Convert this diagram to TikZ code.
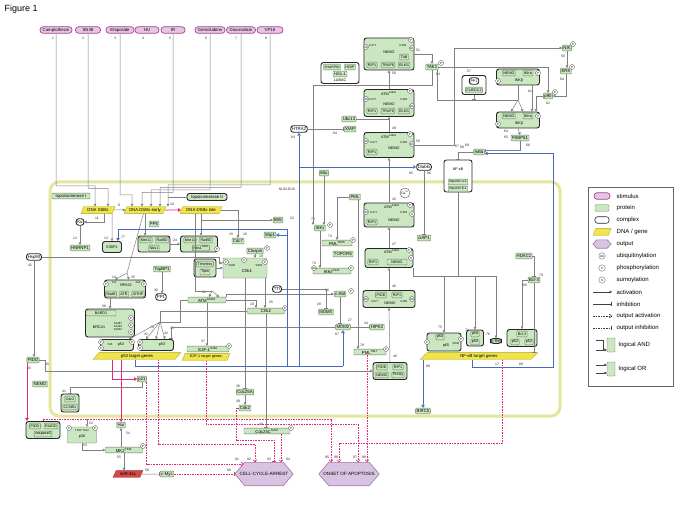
\documentclass[tikz,border=0pt]{standalone}
\usepackage{fontspec}
\setmainfont{Liberation Sans}
\usetikzlibrary{arrows.meta,shapes.geometric,calc,backgrounds}
\definecolor{protf}{RGB}{203,231,193}
\definecolor{protd}{RGB}{100,120,90}
\definecolor{stimf}{RGB}{232,196,226}
\definecolor{stimd}{RGB}{160,70,150}
\definecolor{dnaf}{RGB}{240,228,70}
\definecolor{dnad}{RGB}{170,160,40}
\definecolor{outf}{RGB}{216,196,226}
\definecolor{outd}{RGB}{150,120,165}
\definecolor{pnkc}{RGB}{226,40,120}
\definecolor{bluc}{RGB}{70,105,190}
\definecolor{nucc}{RGB}{228,230,160}
\definecolor{linc}{RGB}{128,128,128}
\definecolor{mirf}{RGB}{215,70,70}
\newcommand{\hexnode}[2]{\path[draw=outd, fill=outf, line width=0.6pt] (#1.west) -- ($(#1.north west)+(#2,0)$) -- ($(#1.north east)+(-#2,0)$) -- (#1.east) -- ($(#1.south east)+(-#2,0)$) -- ($(#1.south west)+(#2,0)$) -- cycle;}
\begin{document}
\begin{tikzpicture}[x=1pt,y=-1pt,
 every node/.style={font=\fontsize{4.3}{4.7}\selectfont, inner sep=0.5pt},
 ism/.style={font=\fontsize{3.7}{4}\selectfont},
 prot/.style={draw=protd, fill=protf, rounded corners=0.8pt, line width=0.35pt, minimum height=5.8pt, inner xsep=1pt},
 cplx/.style={draw=black!85, fill=protf, rounded corners=2.5pt, line width=0.9pt},
 cplxw/.style={cplx, fill=white, inner xsep=1.2pt, minimum height=6.5pt},
 stim/.style={draw=stimd, fill=stimf, rounded corners=3pt, line width=0.7pt, minimum height=6.5pt},
 dna/.style={trapezium, trapezium left angle=60, trapezium right angle=120, trapezium stretches=true, draw=dnad, fill=dnaf, line width=0.3pt, minimum height=6.8pt, inner sep=0.3pt},
 outn/.style={minimum height=23pt, font=\fontsize{4.6}{5}\selectfont},
 lbl/.style={font=\fontsize{3.4}{3.7}\selectfont, inner sep=0pt, text=black!85},
 sm/.style={font=\fontsize{2.8}{3}\selectfont, inner sep=0pt},
 lgt/.style={font=\fontsize{6}{7}\selectfont, anchor=west},
 modst/.style={circle, draw=black!70, fill=white, line width=0.3pt, minimum size=5pt, inner sep=0pt, font=\fontsize{3}{3}\selectfont},
 con/.style={draw=linc, line width=0.5pt},
 act/.style={con, -{Triangle[length=2.5pt,width=2.7pt]}},
 inh/.style={con, -{Bar[width=3.2pt,line width=0.8pt]}},
 blul/.style={draw=bluc, line width=0.9pt},
 blu/.style={blul, -{Triangle[open,length=3pt,width=3.4pt]}},
 pnk/.style={draw=pnkc, line width=0.9pt, -{Triangle[open,length=3pt,width=3.4pt]}},
 pda/.style={draw=pnkc, line width=0.6pt, dash pattern=on 1.6pt off 1pt, -{Straight Barb[length=2.2pt,width=4pt]}},
 pdi/.style={draw=pnkc, line width=0.6pt, dash pattern=on 1.6pt off 1pt, -{Bar[width=4pt,line width=0.9pt]}}
]
\useasboundingbox (0,0) rectangle (685,513);
\node[anchor=west, font=\fontsize{9}{10}\selectfont] (title) at (4,9) {Figure 1};

% nucleus
\node[draw=nucc, line width=3pt, rounded corners=9pt, minimum width=510pt, minimum height=234pt] (nucleus) at (305,299) {};
\node[lbl] (nuclbl) at (287,189) {NUCLEUS};

% stimuli
\node[stim, minimum width=32pt] (s1) at (56,30) {Camptothecin};
\node[stim, minimum width=25pt] (s2) at (88,30) {SN38};
\node[stim, minimum width=28pt] (s3) at (120,30) {Etoposide};
\node[stim, minimum width=24pt] (s4) at (147,30) {HU};
\node[stim, minimum width=24pt] (s5) at (173,30) {IR};
\node[stim, minimum width=30pt] (s6) at (210,30) {Gemcitabine};
\node[stim, minimum width=29pt] (s7) at (241,30) {Doxorubicin};
\node[stim, minimum width=26pt] (s8) at (270,30) {VP16};

% DNA damage
\node[prot, minimum width=38pt] (topoI) at (71,196) {topoisomerase I};
\node[cplx, minimum width=40pt, minimum height=7pt, inner sep=0.5pt] (topoII) at (207,197) {topoisomerase II};
\node[dna, minimum width=34pt] (ssb) at (98,210) {DNA SSBs};
\node[dna, minimum width=42pt] (dsbe) at (145,210) {DNA DSBs early};
\node[dna, minimum width=42pt] (dsbl) at (201,210) {DNA DSBs late};
\node[cplxw] (ku) at (80,222) {Ku};
\node[prot] (hnrnp) at (80,248) {HNRNP1};
\node[cplx, minimum width=19pt, minimum height=11pt, ism] (tp53bp1) at (112,247) {53BP1};
\node[prot] (pp5) at (154,224) {PP5};
\node[cplx, minimum width=32pt, minimum height=16pt] (mrn) at (154,244) {};
\node[prot, ism] (mre11a) at (146,240) {Mre11};
\node[prot, ism] (rad50a) at (162,240) {Rad50};
\node[prot, ism] (nbs1a) at (154,248) {Nbs1};
\node[cplx, minimum width=37pt, minimum height=16pt] (mrnp) at (199,244) {};
\node[prot, ism] (mre11b) at (190,240) {Mre11};
\node[prot, ism] (rad50b) at (206,240) {Rad50};
\node[prot, ism] (nbs1b) at (201,248) {Nbs1\textsuperscript{S343}};
\node[prot] (topbp1) at (162,269) {TopBP1};
\node[cplx, minimum width=22pt, minimum height=18pt] (timeless) at (205,268) {};
\node[prot, ism] (tim) at (205,264) {Timeless};
\node[prot, ism] (tipin) at (205,272) {Tipin};
\node[cplxw] (hsp90) at (34,257) {Hsp90};
\node[cplx, minimum width=41pt, minimum height=18pt] (rpa) at (125,289) {};
\node[ism] (rpa32) at (126,285) {RPA32};
\node[sm] (rpat) at (114,283) {T21};
\node[sm] (rpas33) at (138,283) {S33};
\node[prot, ism] (rad9) at (111,294) {Rad9};
\node[prot, ism] (atr) at (124,294) {ATR};
\node[prot, ism] (atrip) at (138,294) {ATRIP};
\node[cplxw] (pp1n) at (161,297) {PP1};
\node[prot, minimum width=38pt] (atm) at (207,300) {ATM\textsuperscript{S1981}};
\node[prot] (cdc7) at (238,241) {Cdc7};
\node[prot] (b55) at (278,220) {B55};
\node[prot] (wip1) at (270,235) {Wip1};
\node[prot] (claspin) at (255,251) {Claspin};
\node[prot, minimum width=44pt, minimum height=20pt] (chk1) at (245,268) {};
\node (chk1t) at (247,271) {Chk1};
\node[sm] (chk1a) at (232,266) {S296};
\node[sm] (chk1b) at (259,266) {S345};
\node[prot, minimum width=37pt] (chk2) at (266,311) {Chk2};
\node[cplxw] (tt) at (277,289) {TTI};
\node[prot] (cabl) at (340,294) {c-Abl};
\node[prot] (mdmx) at (326,312) {MDMX};
\node[prot] (mdm2) at (343,327) {MDM2};
\node[prot] (hipk2) at (377,327) {HIPK2};
\node[prot, minimum width=32pt] (pml2) at (370,352) {PML\textsuperscript{S117}};
\node[prot] (pml) at (355,197) {PML};
\node[prot, minimum width=30pt] (pmls) at (337,243) {PML\textsuperscript{S565}};
\node[prot] (topors) at (343,254) {TOPORS};
\node[prot] (ikke) at (320,228) {IKKε};
\node[prot] (bidu) at (324,173) {80u};
\node[prot, minimum width=38pt] (ikke2) at (332,271) {IKKε\textsuperscript{K231}};

% ATM / NEMO complexes
\node[cplx, minimum width=50pt, minimum height=24pt] (c45) at (389,215) {};
\node[ism] (c45a) at (392,207) {ATM\textsuperscript{S1981}};
\node[sm] (c45k1) at (374,213) {K277};
\node[sm] (c45k2) at (404,213) {K309};
\node[ism] (c45n) at (394,220) {NEMO};
\node[prot, ism] (c45r) at (372,222) {RIP1};
\node[cplx, minimum width=48pt, minimum height=19pt] (c47) at (389,258) {};
\node[ism] (c47a) at (392,252) {ATM\textsuperscript{S1981}};
\node[prot, ism] (c47r) at (373,262) {RIP1};
\node[prot, ism, minimum width=20pt] (c47n) at (397,262) {NEMO};
\node[cplx, minimum width=52pt, minimum height=17pt] (c46) at (389,299) {};
\node[prot, ism] (c46p) at (381,295) {PIDD};
\node[prot, ism] (c46r) at (397,295) {RIP1};
\node[ism] (c46n) at (390,303) {NEMO};
\node[sm] (c46k1) at (375,302) {K277};
\node[sm] (c46k2) at (404,302) {K309};
\node[cplx, minimum width=34pt, minimum height=17pt] (c44) at (390,371) {};
\node[prot, ism] (c44p) at (382,367) {PIDD};
\node[prot, ism] (c44r) at (398,367) {RIP1};
\node[prot, ism] (c44n) at (382,375) {NEMO};
\node[prot, ism] (c44s) at (398,375) {PIASy};
\node[circle, draw=black!70, fill=white, inner sep=0.3pt, minimum size=10pt, font=\fontsize{3.3}{3.5}\selectfont] (ca) at (405,193) {Ca\textsuperscript{2+}};
\node[prot] (ciap1) at (424,238) {cIAP1};

% cytoplasm top
\node[cplx, minimum width=50pt, minimum height=32pt] (c51) at (389,54) {};
\node[ism] (c51n) at (389,52) {NEMO};
\node[sm] (c51k1) at (373,46) {K277};
\node[sm] (c51k2) at (403,46) {K309};
\node[prot, ism] (c51tab) at (404,57) {TAB};
\node[prot, ism] (c51r) at (372,65) {RIP1};
\node[prot, ism] (c51t) at (388,65) {TRAF6};
\node[prot, ism] (c51e) at (404,65) {ELKS};
\node[cplx, minimum width=50pt, minimum height=27pt] (c49) at (389,103) {};
\node[ism] (c49a) at (389,94) {ATM\textsuperscript{S1981}};
\node[sm] (c49k1) at (373,100) {K277};
\node[sm] (c49k2) at (404,100) {K309};
\node[ism] (c49n) at (389,104) {NEMO};
\node[prot, ism] (c49r) at (372,111) {RIP1};
\node[prot, ism] (c49t) at (388,111) {TRAF6};
\node[prot, ism] (c49e) at (404,111) {ELKS};
\node[cplx, minimum width=50pt, minimum height=25pt] (c58) at (389,145) {};
\node[ism] (c58a) at (389,137) {ATM\textsuperscript{S1981}};
\node[sm] (c58k1) at (374,143) {K277};
\node[sm] (c58k2) at (404,143) {K309};
\node[ism] (c58n) at (394,148) {NEMO};
\node[prot, ism] (c58r) at (372,152) {RIP1};
\node[cplx, fill=white, minimum width=38pt, minimum height=21pt] (lubac) at (340,73) {};
\node[prot, font=\fontsize{3.4}{3.7}\selectfont] (sharpin) at (332,67) {SHARPIN};
\node[prot, ism] (hoip) at (350,67) {HOIP};
\node[prot, ism] (hoil) at (340,74) {HOIL-1};
\node[ism] (lubact) at (340,80) {LUBAC};
\node[prot] (ubc13) at (349,119) {Ubc13};
\node[prot] (xiap) at (350,129) {XIAP};
\node[cplxw] (htra2) at (299,129) {HTRA2};
\node[cplxw] (diablo) at (424,167) {Diablo};
\node[prot] (tak1) at (432,67) {TAK1};
\node[cplx, fill=white, minimum width=24pt, minimum height=19pt] (pp1c) at (474,85) {};
\node[cplxw, ism] (pp1in) at (474,81) {PP1};
\node[prot, ism] (cuedc2) at (474,90) {CUEDC2};
\node[cplx, minimum width=43pt, minimum height=16pt] (ikkc1) at (518,77) {};
\node[prot, ism] (ik1n) at (509,73) {NEMO};
\node[prot, ism] (ik1a) at (528,73) {IKKα};
\node[ism] (ik1b) at (519,81) {IKKβ};
\node[cplx, minimum width=43pt, minimum height=16pt] (ikkc2) at (518,120) {};
\node[prot, ism] (ik2n) at (509,116) {NEMO};
\node[prot, ism] (ik2a) at (528,116) {IKKα};
\node[ism] (ik2b) at (519,124) {IKKβ};
\node[prot] (nik) at (567,48) {NIK};
\node[prot] (erk) at (566,71) {ERK};
\node[prot] (p90) at (548,96) {p90};
\node[prot] (fkbp51) at (520,138) {FKBP51};
\node[prot] (ikba) at (479,152) {IκBα};
\node[cplx, fill=white, minimum width=28pt, minimum height=32pt] (nfkbc) at (458,176) {};
\node[ism] (nfkbt) at (458,169) {NF-κB};
\node[prot, font=\fontsize{3.3}{3.6}\selectfont] (impa) at (458,182) {importin α-1};
\node[prot, font=\fontsize{3.3}{3.6}\selectfont] (impb) at (458,189) {importin β-1};

% NF-kB targets
\node[cplx, minimum width=34pt, minimum height=18pt] (p65) at (444,342) {};
\node[prot, ism] (p65a) at (440,337) {p50};
\node[ism] (p65b) at (446,346) {p65};
\node[sm] (p65s) at (456,344) {S536};
\node[cplx, minimum width=17pt, minimum height=16pt] (p50b) at (475,338) {};
\node[prot, ism] (p50x) at (475,334) {p50};
\node[prot, ism] (p50y) at (475,342) {p50};
\node[cplx, inner sep=1pt, ism] (crel) at (496,341) {c-Rel};
\node[cplx, minimum width=30pt, minimum height=17pt] (bcl3c) at (522,338) {};
\node[prot, ism] (bcl3a) at (522,334) {Bcl-3};
\node[prot, ism] (p52a) at (515,342) {p52};
\node[prot, ism] (p52b) at (529,342) {p52};
\node[dna, minimum width=118pt] (nftg) at (479,356) {NF-κB target genes};
\node[prot] (hdac1) at (524,256) {HDAC1};
\node[prot] (bcl3) at (534,280) {Bcl-3};
\node[prot] (birc) at (423,411) {BIRC5};

% p53 region
\node[cplx, minimum width=49pt, minimum height=28pt] (brca) at (110,323) {};
\node[prot, ism, minimum width=30pt] (bard1) at (101,313) {BARD1};
\node[ism] (brca1) at (99,327) {BRCA1};
\node[sm, align=left] (brcas) at (118,327) {S1387\\S1423\\S1524};
\node[cplx, minimum width=33pt, minimum height=11pt] (p53a) at (117,345) {};
\node[ism] (p53at) at (121,345) {p53};
\node[sm] (p53as) at (110,345) {S15};
\node[cplx, minimum width=35pt, minimum height=11pt] (p53b) at (156,345) {};
\node[ism] (p53bt) at (162,345) {p53};
\node[dna, minimum width=88pt] (p53tg) at (137,356) {p53 target genes};
\node[prot, minimum width=42pt] (e2f1) at (208,349) {E2F-1\textsuperscript{S364}};
\node[dna, minimum width=48pt, ism] (e2ftg) at (206,357) {E2F-1 target genes};
\node[prot] (pidd) at (33,360) {PIDD};
\node[prot] (nemo) at (40,384) {NEMO};
\node[prot] (p21) at (142,379) {p21};
\node[cplx, minimum width=18pt, minimum height=18pt] (cdc2) at (70,403) {};
\node[prot, ism] (cdc2a) at (70,399) {Cdc2};
\node[prot, ism] (ccnb1) at (70,407) {CCNB1};
\node[prot] (cdc25a) at (245,392) {Cdc25A};
\node[prot] (cdk2) at (245,408) {Cdk2};

% outside bottom
\node[cplx, minimum width=34pt, minimum height=17pt] (piddc) at (43,430) {};
\node[prot, ism] (piddp) at (35,426) {PIDD};
\node[prot, ism] (raidd) at (51,426) {RAIDD};
\node[prot, ism] (casp2) at (43,434) {caspase2};
\node[prot, minimum width=29pt, minimum height=16pt] (p38c) at (82,435) {};
\node[sm] (p38s) at (82,431) {T180 Y182};
\node[ism] (p38t) at (82,437) {p38};
\node[prot] (hur) at (121,425) {Hur};
\node[prot, minimum width=37pt] (mk2) at (124,450) {MK2\textsuperscript{T334}};
\node[dna, fill=mirf, draw=mirf!70!black, minimum width=30pt] (mir) at (128,474) {miR-34c};
\node[prot] (cmyc) at (167,474) {c-Myc};
\node[prot, minimum width=46pt] (cdc25c) at (267,431) {Cdc25C\textsuperscript{S216}};
\node[outn, minimum width=58pt] (arrest) at (264,474) {CELL-CYCLE-ARREST};
\node[outn, minimum width=60pt] (apopt) at (349,474) {ONSET OF APOPTOSIS};

% legend
\node[draw=black!60, line width=0.6pt, minimum width=85pt, minimum height=199pt] (legend) at (630.5,286.5) {};
\node[stim, minimum width=16pt] (lg1) at (602,196) {};
\node[lgt] (lt1) at (616,196) {stimulus};
\node[prot, minimum width=14pt, minimum height=6.5pt] (lg2) at (602,208) {};
\node[lgt] (lt2) at (616,208) {protein};
\node[cplxw, minimum width=14pt, minimum height=6.5pt, line width=0.6pt] (lg3) at (602,220) {};
\node[lgt] (lt3) at (616,220) {complex};
\node[dna, minimum width=18pt] (lg4) at (602,232) {\phantom{DNA}};
\node[lgt] (lt4) at (616,232) {DNA / gene};
\node[minimum width=18pt, minimum height=8pt] (lg5) at (602,244) {};
\node[lgt] (lt5) at (616,244) {output};
\node[modst, minimum size=6.5pt] (lg6) at (602,256) {Ub};
\node[lgt] (lt6) at (616,256) {ubiquitinylation};
\node[modst, minimum size=6.5pt] (lg7) at (602,268) {P};
\node[lgt] (lt7) at (616,268) {phosphorylation};
\node[modst, minimum size=6.5pt] (lg8) at (602,280) {S};
\node[lgt] (lt8) at (616,280) {sumoylation};
\node[lgt] (lt9) at (616,292) {activation};
\node[lgt] (lt10) at (616,304) {inhibition};
\node[lgt] (lt11) at (616,316) {output activation};
\node[lgt] (lt12) at (616,328) {output inhibition};
\node[prot, minimum width=8pt, minimum height=14pt] (lgand) at (611,345) {};
\node[lgt] (lt13) at (618,345) {logical AND};
\node[prot, minimum width=8pt, minimum height=14pt] (lgor) at (611,369) {};
\node[lgt] (lt14) at (618,369) {logical OR};

\begin{scope}[on background layer]
\hexnode{arrest}{10}
\hexnode{apopt}{10}
\hexnode{lg5}{4}
\end{scope}

% legend lines
\coordinate (la1) at (593,292); \coordinate (la2) at (612,292);
\draw[act, draw=black!75] (la1) -- (la2);
\coordinate (li1) at (593,304); \coordinate (li2) at (612,304);
\draw[inh, draw=black!75] (li1) -- (li2);
\coordinate (lo1) at (593,316); \coordinate (lo2) at (612,316);
\draw[pda, draw=black!75] (lo1) -- (lo2);
\coordinate (lp1) at (593,328); \coordinate (lp2) at (612,328);
\draw[pdi, draw=black!75] (lp1) -- (lp2);
\coordinate (an1) at (596,340); \coordinate (an2) at (596,350);
\draw[con, draw=black!75] (an1) -| (603,350);
\draw[act, draw=black!75] (an2) -- (lgand.west |- an2);
\coordinate (or1) at (596,365); \coordinate (or2) at (596,373);
\draw[act, draw=black!75] (or1) -- (lgor.west |- or1);
\draw[act, draw=black!75] (or2) -- (lgor.west |- or2);

% modification circles
\foreach \t/\x/\y [count=\k] in {P/411/40, Ub/366/47, Ub/412/48, P/410/91, Ub/366/99, Ub/412/106, P/410/134, Ub/366/141, Ub/412/144, P/441/63, P/573/44, P/572/67, P/555/92, P/498/81, P/538/73, P/498/124, P/538/116, P/410/205, Ub/366/212, S/412/214, P/409/250, S/411/258, Ub/366/299, Ub/412/299, P/226/262, P/244/260, P/265/262, P/267/248, P/285/308, P/351/291, P/386/349, P/330/225, P/353/240, Ub/314/268, P/351/268, P/217/249, P/131/318, P/131/325, P/131/332, P/101/342, P/101/348, P/132/342, P/140/342, P/140/348, P/229/346, P/106/284, P/144/284, P/427/342, P/461/339, P/291/428, P/143/446, P/69/428, P/95/428}
 {\node[modst] (md\k) at (\x,\y) {\t};}

% number labels
\foreach \t/\x/\y [count=\k] in {1/53/38, 2/83/38, 3/115/38, 4/143/38, 5/170/38, 6/206/38, 7/236/38, 8/266/38, 9/119/205, 10/172/204, 11/97/218, 12/75/238, 13/106/238, 77/123/237, 14/114/277, 35/133/277, 15/231/234, 16/245/234, 18/261/256, 19/252/304, 21/204/292, 22/292/218, 24/175/240, 25/271/302, 26/327/290, 27/350/320, 28/319/304, 29/152/327, 30/156/290, 31/146/334, 32/166/333, 33/172/328, 34/366/323, 36/238/386, 37/203/341, 38/104/306, 39/238/401, 40/261/424, 41/64/391, 42/30/265, 43/29/368, 44/47/364, 45/394/199, 47/394/244, 46/394/286, 48/395/356, 49/394/128, 50/394/73, 51/418/50, 52/91/423, 53/85/445, 54/128/433, 55/119/457, 56/147/470, 57/469/71, 58/418/141, 59/563/56, 60/562/79, 61/530/91, 62/548/103, 63/438/74, 64/506/131, 65/506/137, 66/528/145, 67/457/146, 68/462/147, 69/467/145, 71/467/330, 72/313/219, 73/330/236, 74/314/263, 75/440/327, 76/488/334, 78/362/345, 79/541/275, 80/525/285, 83/293/137, 84/335/133, 85/411/173, 86/429/173, 87/337/334, 88/521/364, 89/428/366, 17/497/364, 90/229/470, 91/237/459, 92/249/459, 93/269/459, 94/288/459, 95/327/457, 96/336/457, 97/355/457, 98/364/457}
 {\node[lbl] (nl\k) at (\x,\y) {\t};}

% ---------- connectors ----------
\draw[act] (s1.south) |- (95,186) -- ($(ssb.north)+(-3,0)$);
\draw[act] (s2.south) |- (108,188.5) -- ($(ssb.north)+(10,0)$);
\draw[act] (s3.south) |- (132,195) -- ($(dsbe.north)+(-13,0)$);
\draw[act] (s5.south) |- (142,192.5) -- ($(dsbe.north)+(-3,0)$);
\draw[act] (s6.south) |- (151,190) -- ($(dsbe.north)+(6,0)$);
\draw[act] (s7.south) |- (160,187.5) -- ($(dsbe.north)+(15,0)$);
\draw[act] (s8.south) |- (168,185) -- ($(dsbe.north)+(23,0)$);
\coordinate (tj) at (168,197);
\draw[con] (topoII.west) -- (tj);
\draw[act] (ssb.east) -- (dsbe.west);
\draw[pnk] (dsbe.east) -- (dsbl.west);

\coordinate (ssbk) at ($(ssb.south)+(6,0)$);
\draw[act] (ssbk) |- (ku.east);
\draw[act] (ku.south) -- (hnrnp.north);
\coordinate (ssbt) at ($(ssb.south)+(14,0)$);
\draw[act] (ssbt) -- (tp53bp1.north);
\draw[act] (dsbe.south) -- (dsbe.south |- mrn.north);
\draw[act] (dsbl.south) -- (dsbl.south |- mrnp.north);
\draw[act] (mrn.east) -- (mrnp.west);
\coordinate (rj) at (127,273);
\coordinate (dsw) at ($(dsbe.south west)+(2,0)$);
\draw[con] (dsw) -- (rj);
\draw[act] (rj) -- ($(rpa.north)+(-10,0)$);
\draw[act] (rj) -- ($(rpa.north)+(4,0)$);
\coordinate (aj) at (212,291);
\coordinate (dlw) at ($(dsbl.south west)+(-2,0)$);
\draw[con] (dlw) |- (aj);
\draw[act] (aj) -- ($(atm.north)+(2,0)$);
\draw[act] (aj) -- ($(atm.north)+(12,0)$);
\draw[act] (dsbl.east) -| (cdc7.north);
\coordinate (dle) at ($(dsbl.south east)+(-3,0)$);
\draw[act] (dle) |- (b55.west);
\draw[act] (hsp90.east) -- (219,257) |- ($(chk1.west)+(0,-5)$);
\draw[act] (hsp90.south) -- (hsp90.south |- pidd.north);
\draw[act] (topbp1.south) -- (topbp1.south |- pp1n.north);
\draw[act] (timeless.east) -- (chk1.west);
\draw[act] (claspin.south) -- (claspin.south |- chk1.north);
\coordinate (chs) at ($(chk1.south)+(20,0)$);
\draw[act] (chs) -- (chs |- chk2.north);
\coordinate (chkn) at ($(chk2.north)+(-10,0)$);
\draw[act] (atm.east) -| (chkn);
\draw[act] (atm.north east) |- (cabl.west);
\draw[inh] (tt.east) -| (mdmx.north);
\draw[inh] (cabl.south) -- (cabl.south |- mdm2.north);
\draw[inh] (mdm2.east) -- (hipk2.west);
\draw[act] (pml.west) -| (pmls.north);
\coordinate (pmlo) at ($(pml.south)+(3,0)$);
\draw[act] (pmlo) -- (pmlo |- pml2.north);
\coordinate (tko) at ($(ikke.north)+(-7,0)$);
\draw[act] (tak1.south) |- (313,85) -- (tko);
\draw[act] (bidu.south) -- (bidu.south |- ikke.north);
\draw[act] (ikke.south) -- (ikke.south |- ikke2.north);
\coordinate (rpas) at ($(rpa.south)+(-15,0)$);
\draw[act] (rpas) -- (rpas |- brca.north);
\draw[act] (atm.south) -- (atm.south |- e2f1.north);
\draw[inh] (chk1.south) -- (chk1.south |- cdc25a.north);
\draw[act] (cdc25a.south) -- (cdk2.north);
\draw[inh] (chk2.south) -- (chk2.south |- cdc25c.north);

\coordinate (pj) at (160,322);
\draw[con] (atm.west) -- ++(-8,0) |- (pj);
\draw[con] (chk2.west) -| (pj);
\draw[act] (pj) -- ($(p53b.north)+(-10,0)$);
\draw[act] (pj) -- (p53b.north);
\draw[act] (pj) -- ($(p53b.north)+(9,0)$);
\draw[act] (pj) -- ($(p53a.north)+(12,0)$);
\draw[inh] (mdm2.west) -| ($(p53b.north)+(15,0)$);

\draw[act] (c44.north) -- (c46.south);
\draw[act] (c46.north) -- (c47.south);
\draw[act] (c47.north) -- (c45.south);
\draw[act] (c45.north) -- (c58.south);
\draw[act] (c58.north) -- (c49.south);
\draw[act] (c49.north) -- (c51.south);
\draw[con] (ubc13.east) -- (ubc13.east -| c49.south);
\draw[inh] (htra2.east) -- (xiap.west);
\draw[act] (c51.east) -| (tak1.north);
\draw[act] (c58.east) -| (454,48) -- (nik.west);
\draw[act] (nik.south) -- (nik.south |- erk.north);
\draw[act] (erk.south) |- (p90.east);
\draw[act] (tak1.east) -| (p90.north);
\coordinate (jk) at (518,100);
\coordinate (tks) at ($(tak1.south)+(5,0)$);
\draw[con] (tks) |- (jk);
\draw[inh] (pp1c.south) -- (pp1c.south |- jk);
\draw[con] (ikkc1.south) -- (jk);
\draw[act] (jk) -- ($(ikkc2.north)+(-7,0)$);
\draw[act] (jk) -- ($(ikkc2.north)+(5,0)$);
\coordinate (ik61) at ($(ikkc1.south)+(14,0)$);
\draw[act] (ik61) -- (ik61 |- ikkc2.north);
\coordinate (ikkp) at ($(ikkc2.north)+(18,0)$);
\draw[act] (p90.west) -| (ikkp);
\draw[act] (ikkc2.south) -- (fkbp51.north);
\draw[inh] (fkbp51.south) |- ($(ikba.east)+(0,-1.5)$);
\draw[inh] (ikba.west) -| (nfkbc.north);
\draw[inh] (diablo.south) -- (diablo.south |- ciap1.north);

\coordinate (nfj) at (458,276);
\draw[con] (nfkbc.south) -- (nfj);
\draw[con] (c47.south east) |- (nfj);
\draw[act] (nfj) -| (p65.north);
\draw[act] (nfj) -| (p50b.north);
\draw[act] (nfj) -| (crel.north);
\draw[inh] (hdac1.east) -| (bcl3.north);
\draw[act] (bcl3.west) -| (bcl3c.north);
\draw[inh] (bcl3.south) -- (bcl3.south |- nftg.north);
\coordinate (nfb) at ($(nftg.south east)+(-10,0)$);
\draw[blu] (nfb) |- (553,367) |- ($(ikba.east)+(0,1.5)$);
\coordinate (nfbi) at (birc.north |- nftg.south);
\draw[blu] (nfbi) -- (birc.north);

\coordinate (bm) at (343,366);
\coordinate (bh) at (299,366);
\coordinate (bw) at (287,366);
\coordinate (bw2) at (287,235);
\coordinate (bt) at (287,229);
\coordinate (bd) at (299,167);
\coordinate (p53l) at ($(p53tg.south west)+(2,0)$);
\draw[blul] (p53l) |- (bm);
\draw[blu] (bm) -- (mdm2.south);
\draw[blu] (bh) -- (htra2.south);
\draw[blu] (bd) -- (diablo.west);
\draw[blul] (bw) -- (bt);
\draw[blu] (bw2) -- (wip1.east);
\draw[blu] (bt) -| ($(tp53bp1.north)+(6,0)$);

\draw[act] (pidd.east) -- ++(6,0) |- (c44.west);
\coordinate (pidl) at ($(pidd.south)+(-6,0)$);
\draw[pnk] (pidl) -- (pidl |- piddc.north);
\coordinate (pk1) at ($(p53tg.south)+(-25,0)$);
\draw[pnk] (pk1) |- (p21.west);
\coordinate (pk2) at ($(p53tg.south)+(-16,0)$);
\draw[pnk] (pk2) -- (pk2 |- hur.north);
\draw[inh] (p21.south) |- (70,387) -- (cdc2.north);
\coordinate (c52) at (87,419);
\draw[act] (c52) -- (c52 |- p38c.north);
\draw[act] (p38c.south) |- (mk2.west);
\coordinate (mkn) at (hur.south |- mk2.north);
\draw[act] (mkn) -- (hur.south);
\draw[act] (mk2.south) -- (mk2.south |- mir.north);
\draw[inh] (mir.east) -- (cmyc.west);

\draw[pdi] (cmyc.east) -- (arrest.west);
\draw[pda] (p21.south east) |- ($(arrest.north west)+(8.7,1.5)$);
\coordinate (pk3) at ($(p53tg.south)+(21,0)$);
\draw[pda] (pk3) |- (255,444) -- ($(arrest.north)+(-9,0)$);
\draw[pdi] (cdk2.west) -- ++(-3,0) |- (274,440) -- ($(arrest.north)+(10,0)$);
\coordinate (c25o) at ($(cdc25c.south)+(14,0)$);
\draw[pda] (c25o) -- (c25o |- arrest.north);
\draw[pda] (piddc.north) |- (331,419) -- ($(apopt.north)+(-18,0)$);
\coordinate (nfd) at ($(nftg.south west)+(27,0)$);
\draw[pda] (nfd) |- (339,443) -- ($(apopt.north)+(-10,0)$);
\draw[pda] (e2ftg.south) |- (358,424) -- ($(apopt.north)+(9,0)$);
\coordinate (pmls2) at ($(pml2.south)+(-3,0)$);
\draw[pda] (pmls2) -- (pmls2 |- apopt.north);
\end{tikzpicture}
\end{document}
